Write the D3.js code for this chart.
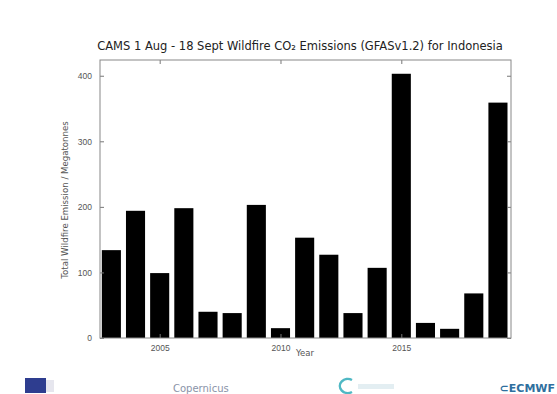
<!DOCTYPE html>
<html>
<head>
<meta charset="utf-8">
<script src="https://cdn.jsdelivr.net/npm/d3@7"></script>
<style>
  body { margin: 0; background: #fff; }
  svg { font-family: "DejaVu Sans", sans-serif; }
</style>
</head>
<body>
<div class="chart"></div>
<script>
// Data
const years = [2003, 2004, 2005, 2006, 2007, 2008, 2009, 2010, 2011, 2012, 2013, 2014, 2015, 2016, 2017, 2018, 2019];
const emissions = [134, 194, 99, 198, 40, 38, 203, 15, 153, 127, 38, 107, 403, 23, 14, 68, 359];
const yTicks = [0, 100, 200, 300, 400];
const xTicks = [2005, 2010, 2015];

const data = years.map((y, i) => ({ year: y, value: emissions[i] }));

const W = 557, H = 394;
const margin = {top: 60, right: 46, bottom: 56, left: 100};
const width = W - margin.left - margin.right;
const height = H - margin.top - margin.bottom;

const svg = d3.select(".chart").append("svg")
    .attr("width", W)
    .attr("height", H);

const g = svg.append("g")
    .attr("transform", `translate(${margin.left}, ${margin.top})`);

// Scales
const x = d3.scaleLinear()
    .domain([2002.53, 2019.54])
    .range([0, width]);

const y = d3.scaleLinear()
    .domain([0, 424])
    .range([height, 0]);

const barW = x(2003.79) - x(2003);

// Bars
g.selectAll("rect.bar")
    .data(data)
    .enter()
    .append("rect")
        .attr("class", "bar")
        .attr("x", d => x(d.year) - barW / 2)
        .attr("y", d => y(d.value))
        .attr("width", barW)
        .attr("height", d => height - y(d.value))
        .attr("fill", "#000");

// Axes, ticks pointing inward like old matplotlib
const tickColor = "#777";
const labelColor = "#555";

const yAxis = g.append("g")
    .call(d3.axisLeft(y).tickValues(yTicks).tickSize(-4).tickPadding(8));
const yRight = g.append("g")
    .attr("transform", `translate(${width}, 0)`)
    .call(d3.axisRight(y).tickValues(yTicks).tickSize(-4).tickFormat(""));
const xAxis = g.append("g")
    .attr("transform", `translate(0, ${height})`)
    .call(d3.axisBottom(x).tickValues(xTicks).tickSize(-4).tickPadding(7).tickFormat(d3.format("d")));
const xTop = g.append("g")
    .call(d3.axisTop(x).tickValues(xTicks).tickSize(-4).tickFormat(""));

[yAxis, yRight, xAxis, xTop].forEach(a => {
    a.select(".domain").remove();
    a.selectAll("line").attr("stroke", tickColor);
    a.selectAll("text").attr("fill", labelColor).style("font-size", "8.5px");
});

// Frame
g.append("rect")
    .attr("width", width)
    .attr("height", height)
    .attr("fill", "none")
    .attr("stroke", "#888")
    .attr("stroke-width", 1);

// Title and axis labels
svg.append("text")
    .attr("x", 300)
    .attr("y", 50)
    .attr("text-anchor", "middle")
    .style("font-size", "11.5px")
    .attr("fill", "#222")
    .text("CAMS 1 Aug - 18 Sept Wildfire CO\u2082 Emissions (GFASv1.2) for Indonesia");

svg.append("text")
    .attr("x", 305)
    .attr("y", 356)
    .attr("text-anchor", "middle")
    .style("font-size", "8.5px")
    .attr("fill", labelColor)
    .text("Year");

svg.append("text")
    .attr("transform", "translate(68, 200) rotate(-90)")
    .attr("text-anchor", "middle")
    .style("font-size", "8.6px")
    .attr("fill", labelColor)
    .text("Total Wildfire Emission / Megatonnes");

// Footer logos (simple stand-ins)
const foot = svg.append("g");
foot.append("rect")
    .attr("x", 25).attr("y", 378).attr("width", 21).attr("height", 15)
    .attr("fill", "#2e3d8f");
foot.append("rect")
    .attr("x", 46).attr("y", 380).attr("width", 8).attr("height", 12)
    .attr("fill", "#e6e6ee");
foot.append("text")
    .attr("x", 173).attr("y", 392)
    .style("font-size", "10px")
    .attr("fill", "#8a93a8")
    .text("Copernicus");
foot.append("path")
    .attr("d", "M352,380 A8,7 0 1,0 352,392")
    .attr("fill", "none")
    .attr("stroke", "#4fb8c4")
    .attr("stroke-width", 2.5);
foot.append("rect")
    .attr("x", 358).attr("y", 384).attr("width", 36).attr("height", 5)
    .attr("fill", "#e3eef2");
foot.append("text")
    .attr("x", 555).attr("y", 392)
    .attr("text-anchor", "end")
    .style("font-size", "11px")
    .style("font-weight", "bold")
    .attr("fill", "#2f6f9e")
    .text("\u2282ECMWF");
</script>
</body>
</html>
